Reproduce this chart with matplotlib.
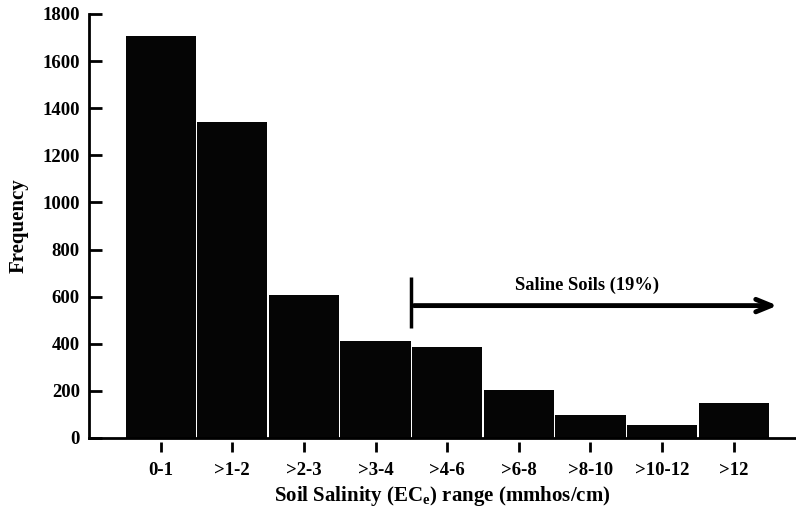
import numpy as np
import matplotlib
matplotlib.use('Agg')
import matplotlib.pyplot as plt

plt.rcParams['font.family'] = ['Liberation Serif', 'DejaVu Serif']
plt.rcParams['font.weight'] = 'bold'
plt.rcParams['mathtext.fontset'] = 'custom'
plt.rcParams['mathtext.rm'] = 'Liberation Serif:bold'
plt.rcParams['mathtext.bf'] = 'Liberation Serif:bold'

categories = ['0-1', '>1-2', '>2-3', '>3-4', '>4-6', '>6-8', '>8-10', '>10-12', '>12']
frequency = [1708, 1340, 605, 410, 385, 203, 96, 53, 150]

fig = plt.figure(figsize=(7.96, 5.16), dpi=100)
ax = fig.add_axes([0.1118, 0.1512, 0.8882, 0.8217])

index = np.arange(len(categories))
ax.bar(index, frequency, 0.98, color='#050505', edgecolor='none')

ax.set_xlim(-1, 8.87)
ax.set_ylim(0, 1800)
ax.set_yticks(np.arange(0, 1801, 200))
ax.set_xticks(index)
ax.set_xticklabels(categories)

ax.spines['top'].set_visible(False)
ax.spines['right'].set_visible(False)
ax.spines['left'].set_linewidth(2)
ax.spines['bottom'].set_position(('outward', 3))
ax.spines['bottom'].set_visible(False)
ax.axhline(0, color='black', lw=2, clip_on=False)

ax.tick_params(axis='y', direction='in', length=9, width=2, pad=6.5, labelsize=13.5)
ax.tick_params(axis='x', direction='out', length=7, width=2, pad=7, labelsize=13.5)

# saline soils marker
ax.plot([3.5, 3.5], [467, 684], color='black', lw=2.5, solid_capstyle='butt')
ax.annotate('', xy=(8.65, 562), xytext=(3.5, 562),
            arrowprops=dict(arrowstyle='->,head_length=1.1,head_width=0.45',
                        color='black', lw=3.5))
ax.text(5.96, 650, 'Saline Soils (19%)', ha='center', va='center', fontsize=13.3,
        fontweight='bold')

ax.set_xlabel(r'Soil Salinity (EC$_\mathbf{e}$) range (mmhos/cm)', fontsize=15,
              fontweight='bold', labelpad=4)
ax.set_ylabel('Frequency', fontsize=15, fontweight='bold', labelpad=10)

fig.savefig('out.png', dpi=100)
